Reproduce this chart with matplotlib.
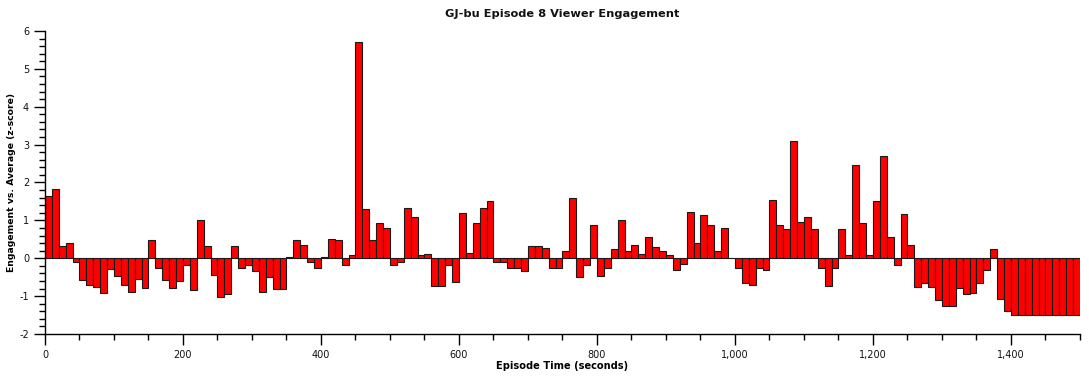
import matplotlib
matplotlib.use('Agg')
import matplotlib.pyplot as plt
from matplotlib.ticker import MultipleLocator, FuncFormatter

# bin start times (seconds), 10 s bins
bin_starts = list(range(0, 1500, 10))

# engagement z-score per bin
z_scores = [
    1.65, 1.83, 0.33, 0.41, -0.10, -0.57, -0.70, -0.75, -0.91, -0.29,
    -0.46, -0.70, -0.88, -0.56, -0.78, 0.49, -0.27, -0.57, -0.78, -0.59,
    -0.19, -0.85, 1.02, 0.33, -0.43, -1.02, -0.94, 0.33, -0.27, -0.19,
    -0.33, -0.88, -0.49, -0.80, -0.80, 0.04, 0.49, 0.35, -0.11, -0.27,
    0.04, 0.52, 0.49, -0.19, 0.09, 5.71, 1.31, 0.47, 0.92, 0.81,
    -0.19, -0.09, 1.32, 1.09, 0.09, 0.11, -0.72, -0.72, -0.17, -0.62,
    1.20, 0.13, 0.92, 1.33, 1.52, -0.09, -0.09, -0.25, -0.25, -0.35,
    0.33, 0.33, 0.26, -0.25, -0.27, 0.19, 1.58, -0.49, -0.17, 0.89,
    -0.46, -0.25, 0.25, 1.02, 0.19, 0.35, 0.11, 0.57, 0.30, 0.18,
    0.09, -0.30, -0.14, 1.21, 0.41, 1.13, 0.89, 0.18, 0.81, 0.00,
    -0.27, -0.65, -0.70, -0.25, -0.30, 1.53, 0.89, 0.78, 3.09, 0.97,
    1.08, 0.78, -0.27, -0.72, -0.27, 0.78, 0.09, 2.45, 0.94, 0.09,
    1.50, 2.69, 0.57, -0.19, 1.18, 0.35, -0.77, -0.66, -0.77, -1.09,
    -1.27, -1.25, -0.79, -0.94, -0.91, -0.66, -0.32, 0.24, -1.07, -1.40,
    -1.51, -1.51, -1.51, -1.51, -1.51, -1.51, -1.51, -1.51, -1.51, -1.51,
]

plt.rcParams['font.family'] = ['DejaVu Sans']
plt.rcParams['text.color'] = '#111111'
plt.rcParams['axes.unicode_minus'] = False

fig = plt.figure(figsize=(10.89, 3.80), dpi=100)
ax = fig.add_axes([0.0413, 0.1211, 0.9504, 0.7973])

ax.bar(bin_starts, z_scores, width=10, align='edge',
       color='#FF0000', edgecolor='#1a1a1a', linewidth=0.8)

ax.set_xlim(0, 1500)
ax.set_ylim(-2, 6)

# axis styling: only left and bottom, ticks outward
for side in ('top', 'right'):
    ax.spines[side].set_visible(False)
for side in ('left', 'bottom'):
    ax.spines[side].set_linewidth(1.0)
    ax.spines[side].set_color('black')

ax.xaxis.set_major_locator(MultipleLocator(200))
ax.xaxis.set_minor_locator(MultipleLocator(50))
ax.yaxis.set_major_locator(MultipleLocator(1))
ax.yaxis.set_minor_locator(MultipleLocator(0.2))
ax.xaxis.set_major_formatter(FuncFormatter(lambda v, p: f'{int(v):,}'))
ax.tick_params(which='major', direction='out', length=8, width=1, labelsize=7, colors='black')
ax.tick_params(which='minor', direction='out', length=4.5, width=1)
ax.tick_params(axis='both', labelcolor='#111111')

ax.set_title('GJ-bu Episode 8 Viewer Engagement', fontsize=8.2, fontweight='bold', pad=10)
ax.set_xlabel('Episode Time (seconds)', fontsize=7.1, fontweight='bold', labelpad=1)
ax.set_ylabel('Engagement vs. Average (z-score)', fontsize=6.7, fontweight='bold', labelpad=2)

fig.savefig('out.png', dpi=100)
